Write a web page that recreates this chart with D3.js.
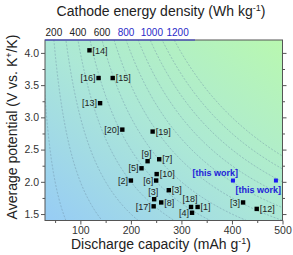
<!DOCTYPE html>
<html><head><meta charset="utf-8">
<script src="https://cdn.jsdelivr.net/npm/d3@7"></script>
<style>
body{margin:0;background:#fff;}
text{font-family:Arial,"Liberation Sans",sans-serif;}
</style></head>
<body><svg id="c" width="293" height="255"></svg>
<script>
const refs = ["[14]","[16]","[15]","[13]","[20]","[19]","[9]","[7]","[5]","[10]","[6]","[2]","[3]","[3]","[17]","[8]","[18]","[1]","[4]","[3]","[12]"];
const capacity = [118,136,164,139,183,243,233,256,221,251,250,200,275,246,245,260,319,332,321,422,449];
const potential = [4.04,3.61,3.61,3.22,2.81,2.78,2.32,2.35,2.21,2.12,2.02,2.02,1.87,1.73,1.62,1.68,1.61,1.61,1.52,1.68,1.58];
const labelSide = ["r","l","r","l","l","r","t","r","l","r","l","l","r","t","l","r","t","r","l","l","r"];
const thisWorkCap = [402, 487];
const thisWorkV = [2.02, 2.02];
const thisWorkSide = ["t","b"];
const energyLevels = [100,200,300,400,500,600,700,800,900,1000,1100,1200];
const topLabels = [200,400,600,800,1000,1200];
const xTicks = [100,200,300,400,500];
const yTicks = [1.5,2.0,2.5,3.0,3.5,4.0];

const svg = d3.select("#c");
const L=45,R=282.5,T=40,B=220.5;
const x = d3.scaleLinear().domain([30,500]).range([L,R]);
const y = d3.scaleLinear().domain([1.4,4.2]).range([B,T]);

const defs = svg.append("defs");
const g = defs.append("linearGradient").attr("id","bg").attr("x1",0).attr("y1",1).attr("x2",1).attr("y2",0);
g.append("stop").attr("offset","0%").attr("stop-color","#97ccf5");
g.append("stop").attr("offset","50%").attr("stop-color","#ace8d6");
g.append("stop").attr("offset","100%").attr("stop-color","#b9f8b0");
defs.append("clipPath").attr("id","clip").append("rect").attr("x",L).attr("y",T).attr("width",R-L).attr("height",B-T);

svg.append("rect").attr("x",L).attr("y",T).attr("width",R-L).attr("height",B-T).attr("fill","url(#bg)");

// iso-energy contours
const vs = d3.range(1.3,4.31,0.02);
const line = d3.line().x(d=>x(d[0])).y(d=>y(d[1]));
svg.append("g").attr("clip-path","url(#clip)").selectAll("path").data(energyLevels).join("path")
  .attr("d",E=>line(vs.map(v=>[E/v,v])))
  .attr("fill","none").attr("stroke","#6f8fa6").attr("stroke-width",0.6).attr("stroke-dasharray","2,1.5").attr("opacity",0.75);

// frame
svg.append("rect").attr("x",L).attr("y",T).attr("width",R-L).attr("height",B-T).attr("fill","none").attr("stroke","#555").attr("stroke-width",1);
svg.append("line").attr("x1",L).attr("x2",195).attr("y1",T).attr("y2",T).attr("stroke","#3a3ad0").attr("stroke-width",1.2);

// axes
svg.append("g").attr("transform",`translate(0,${B})`)
  .call(d3.axisBottom(x).tickValues(xTicks).tickSize(4).tickSizeOuter(0).tickPadding(2).tickFormat(d3.format("d")));
svg.append("g").attr("transform",`translate(0,${B})`)
  .call(d3.axisBottom(x).tickValues([50,150,250,350,450]).tickSize(2.5).tickSizeOuter(0).tickFormat(""));
svg.append("g").attr("transform",`translate(${L},0)`)
  .call(d3.axisLeft(y).tickValues(yTicks).tickSize(4).tickSizeOuter(0).tickPadding(2).tickFormat(d3.format(".1f")));
svg.append("g").attr("transform",`translate(${L},0)`)
  .call(d3.axisLeft(y).tickValues([1.75,2.25,2.75,3.25,3.75]).tickSize(2.5).tickSizeOuter(0).tickFormat(""));
svg.append("g").attr("transform",`translate(${R},0)`)
  .call(d3.axisRight(y).tickValues(yTicks).tickSize(4).tickSizeOuter(0).tickFormat(""));
svg.append("g").attr("transform",`translate(${R},0)`)
  .call(d3.axisRight(y).tickValues([1.75,2.25,2.75,3.25,3.75]).tickSize(2.5).tickSizeOuter(0).tickFormat(""));
svg.selectAll(".domain").remove();
svg.selectAll(".tick line").attr("stroke","#555");
svg.selectAll(".tick text").attr("font-size",10.5).attr("fill","#333").attr("font-family","Arial,'Liberation Sans',sans-serif");

// top labels
svg.append("g").selectAll("text").data(topLabels).join("text")
  .attr("x",E=>x(E/4.2)+(E>800?(E-800)/400*3.4:0)).attr("y",36).attr("text-anchor","middle").attr("font-size",10)
  .attr("fill",E=>E>=800?"#2a2ac8":"#222").text(d=>d);

// titles
const t1 = svg.append("text").attr("x",161).attr("y",16).attr("text-anchor","middle").attr("font-size",14).attr("fill","#222");
t1.append("tspan").text("Cathode energy density (Wh kg");
t1.append("tspan").attr("dy",-5).attr("font-size",9).text("-1");
t1.append("tspan").attr("dy",5).text(")");
const t2 = svg.append("text").attr("x",161).attr("y",249).attr("text-anchor","middle").attr("font-size",14).attr("fill","#222");
t2.append("tspan").text("Discharge capacity (mAh g");
t2.append("tspan").attr("dy",-5).attr("font-size",9).text("-1");
t2.append("tspan").attr("dy",5).text(")");
const t3 = svg.append("text").attr("transform","translate(17,127) rotate(-90)").attr("text-anchor","middle").attr("font-size",14).attr("fill","#222");
t3.append("tspan").text("Average potential (V vs. K");
t3.append("tspan").attr("dy",-5).attr("font-size",9).text("+");
t3.append("tspan").attr("dy",5).text("/K)");

// data points
const pts = refs.map((r,i)=>({r,c:capacity[i],v:potential[i],s:labelSide[i]}));
const gp = svg.append("g");
gp.selectAll("rect").data(pts).join("rect")
  .attr("x",d=>x(d.c)-2.2).attr("y",d=>y(d.v)-2.2).attr("width",4.4).attr("height",4.4).attr("fill","#000");
gp.selectAll("text").data(pts).join("text")
  .attr("x",d=>d.s==="r"?x(d.c)+3:d.s==="l"?x(d.c)-3:x(d.c)-1)
  .attr("y",d=>d.s==="t"?y(d.v)-4.5:y(d.v)+3.2)
  .attr("text-anchor",d=>d.s==="r"?"start":d.s==="l"?"end":"middle")
  .attr("font-size",9).attr("fill","#222").text(d=>d.r);

const tw = thisWorkCap.map((c,i)=>({c,v:thisWorkV[i],s:thisWorkSide[i]}));
svg.append("g").selectAll("rect").data(tw).join("rect")
  .attr("x",d=>x(d.c)-2).attr("y",d=>y(d.v)-2).attr("width",4).attr("height",4).attr("fill","#1c1cf0");
svg.append("g").selectAll("text").data(tw).join("text")
  .attr("x",d=>x(d.c)+5).attr("y",d=>d.s==="t"?y(d.v)-5:y(d.v)+12)
  .attr("text-anchor","end").attr("font-size",9).attr("font-weight","bold").attr("fill","#2323d8").text("[this work]");
</script></body></html>
